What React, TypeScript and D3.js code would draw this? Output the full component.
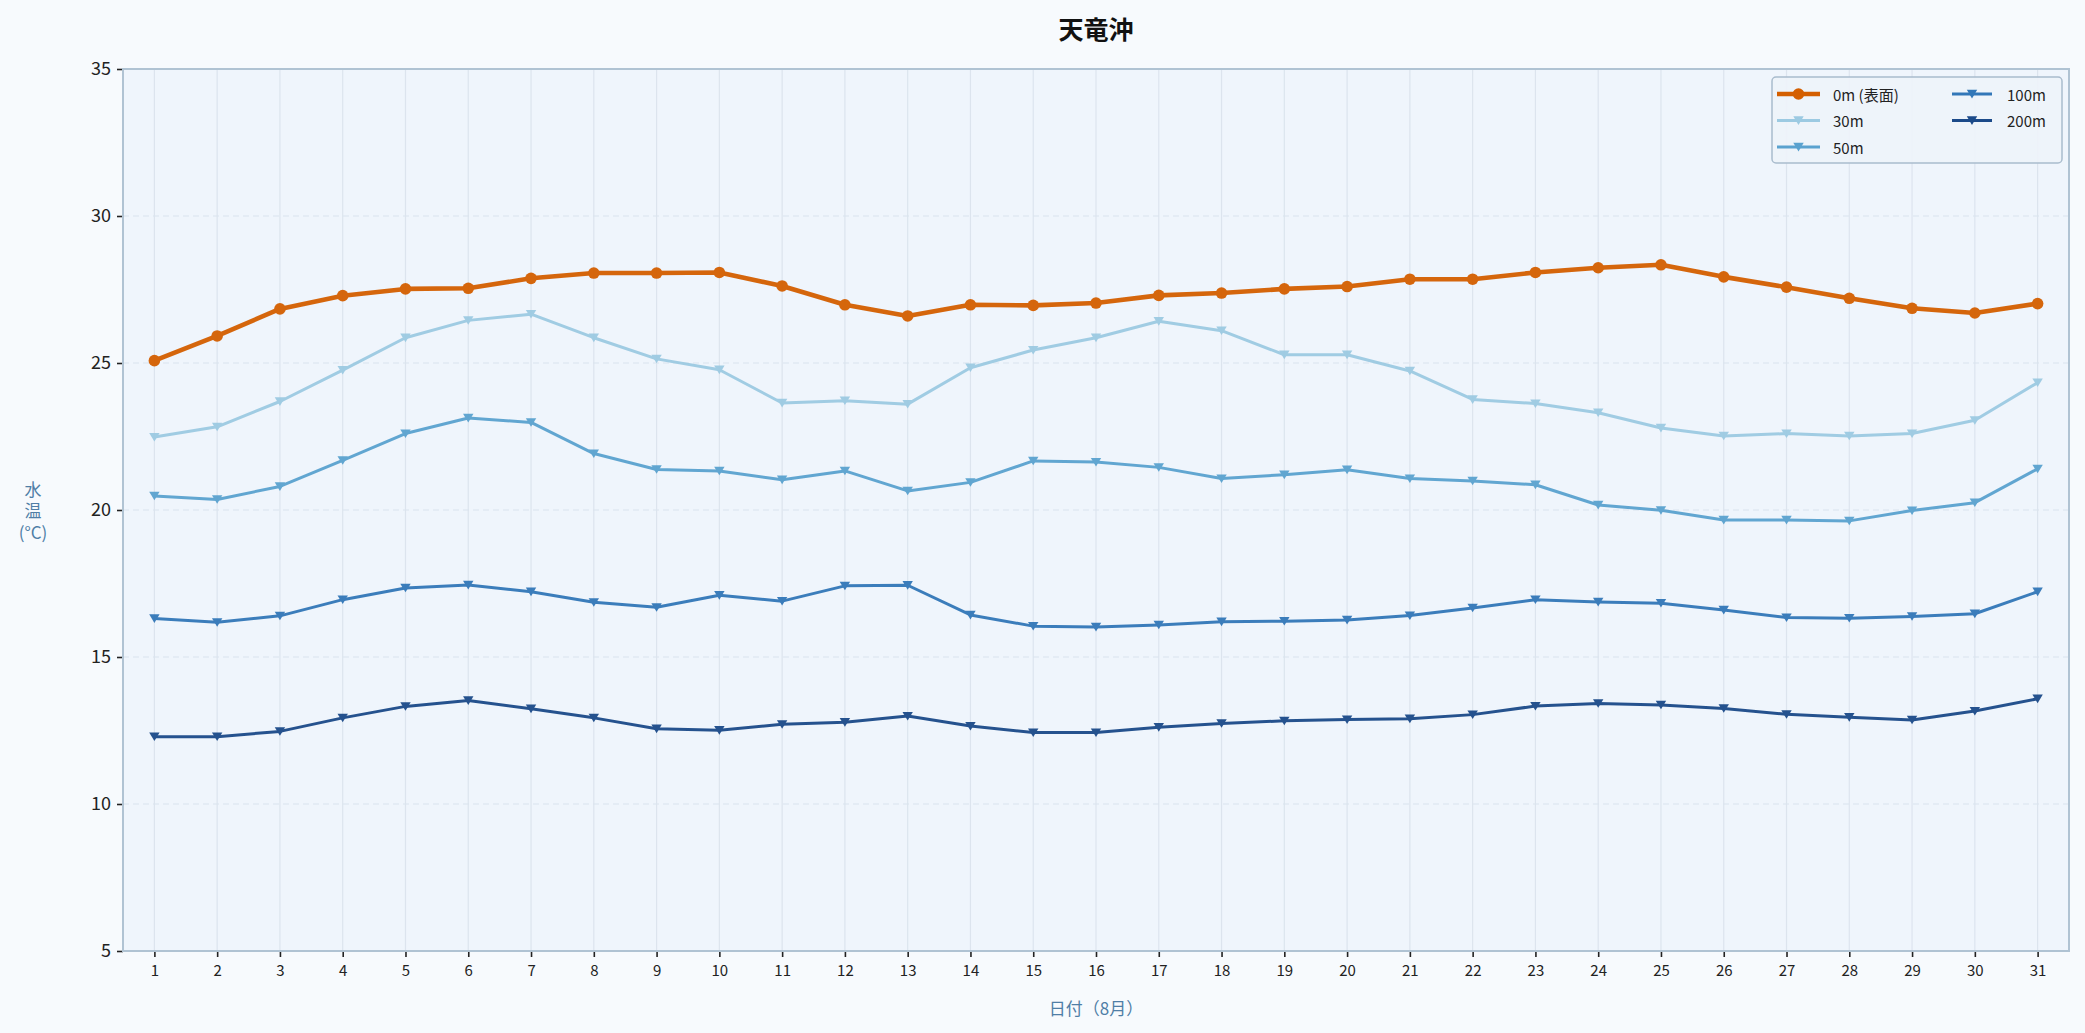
import { useEffect, useRef } from 'react'
import * as d3 from 'd3'

const W = 2085
const H = 1033
const MARGIN = { top: 69, right: 16, bottom: 82, left: 123 }
const FONT = '"Noto Sans CJK JP", "Noto Sans", sans-serif'

const TITLE = '天竜沖'
const X_LABEL = '日付（8月）'
const Y_LABEL = ['水', '温', '(°C)']

const DAYS = d3.range(1, 32)
const Y_TICKS = [5, 10, 15, 20, 25, 30, 35]

const T0 = [25.08, 25.92, 26.84, 27.29, 27.52, 27.54, 27.88, 28.06, 28.06, 28.08, 27.62, 26.98, 26.6, 26.98, 26.96, 27.04, 27.3, 27.38, 27.52, 27.6, 27.85, 27.85, 28.08, 28.24, 28.34, 27.93, 27.58, 27.2, 26.86, 26.7, 27.02]
const T30 = [22.48, 22.83, 23.69, 24.76, 25.86, 26.45, 26.66, 25.86, 25.14, 24.77, 23.64, 23.72, 23.6, 24.84, 25.44, 25.86, 26.42, 26.1, 25.28, 25.28, 24.73, 23.76, 23.62, 23.31, 22.79, 22.52, 22.6, 22.52, 22.6, 23.05, 24.33]
const T50 = [20.48, 20.36, 20.8, 21.69, 22.6, 23.13, 22.98, 21.92, 21.38, 21.33, 21.03, 21.33, 20.65, 20.94, 21.67, 21.63, 21.45, 21.07, 21.2, 21.37, 21.07, 20.99, 20.86, 20.17, 19.99, 19.66, 19.66, 19.63, 19.98, 20.25, 21.4]
const T100 = [16.31, 16.18, 16.4, 16.95, 17.35, 17.45, 17.22, 16.86, 16.69, 17.1, 16.9, 17.42, 17.44, 16.43, 16.05, 16.02, 16.09, 16.2, 16.22, 16.26, 16.41, 16.67, 16.95, 16.87, 16.83, 16.6, 16.34, 16.32, 16.38, 16.47, 17.22]
const T200 = [12.29, 12.29, 12.47, 12.93, 13.32, 13.52, 13.24, 12.93, 12.56, 12.51, 12.71, 12.78, 12.99, 12.65, 12.43, 12.43, 12.61, 12.74, 12.83, 12.87, 12.9, 13.04, 13.33, 13.42, 13.37, 13.25, 13.05, 12.95, 12.86, 13.16, 13.58]

interface Series {
  name: string
  values: number[]
  color: string
  marker: 'circle' | 'tri'
  width: number
}

const SERIES: Series[] = [
  { name: '0m (表面)', values: T0, color: '#d45f00', marker: 'circle', width: 4.6 },
  { name: '30m', values: T30, color: '#9ccae2', marker: 'tri', width: 3 },
  { name: '50m', values: T50, color: '#5aa2cf', marker: 'tri', width: 3 },
  { name: '100m', values: T100, color: '#3277b8', marker: 'tri', width: 3 },
  { name: '200m', values: T200, color: '#1b4a89', marker: 'tri', width: 3 },
]

const triPath = (s: number) => `M${-s},${-s * 0.8}L${s},${-s * 0.8}L0,${s * 0.85}Z`

export default function App() {
  const svgRef = useRef<SVGSVGElement>(null)

  useEffect(() => {
    if (!svgRef.current) return
    document.body.style.margin = '0'
    const svg = d3.select(svgRef.current)
    svg.selectAll('*').remove()

    const x = d3.scaleLinear().domain([0.5, 31.5]).range([MARGIN.left, W - MARGIN.right])
    const y = d3.scaleLinear().domain([5, 35]).range([H - MARGIN.bottom, MARGIN.top])

    svg.append('rect').attr('width', W).attr('height', H).attr('fill', '#f7fafd')
    svg.append('rect')
      .attr('x', MARGIN.left).attr('y', MARGIN.top)
      .attr('width', W - MARGIN.left - MARGIN.right)
      .attr('height', H - MARGIN.top - MARGIN.bottom)
      .attr('fill', '#eff5fc')

    const g = svg.append('g')

    // grid
    g.selectAll('line.vgrid').data(DAYS).join('line')
      .attr('class', 'vgrid')
      .attr('x1', d => x(d)).attr('x2', d => x(d))
      .attr('y1', MARGIN.top).attr('y2', H - MARGIN.bottom)
      .attr('stroke', '#dce4ee').attr('stroke-width', 1.2)
    g.selectAll('line.hgrid').data(Y_TICKS.slice(1, -1)).join('line')
      .attr('class', 'hgrid')
      .attr('x1', MARGIN.left).attr('x2', W - MARGIN.right)
      .attr('y1', d => y(d)).attr('y2', d => y(d))
      .attr('stroke', '#dae3ee').attr('stroke-width', 1.2).attr('stroke-dasharray', '6,4')

    // axes
    const yAx = g.append('g')
      .attr('transform', `translate(${MARGIN.left},0)`)
      .call(d3.axisLeft(y).tickValues(Y_TICKS).tickSize(6).tickPadding(6))
    yAx.select('.domain').remove()
    yAx.selectAll('line').attr('stroke', '#222').attr('stroke-width', 1.6)
    yAx.selectAll('text').style('fill', '#222').style('font-size', '18px').style('font-family', FONT)

    const xAx = g.append('g')
      .attr('transform', `translate(0,${H - MARGIN.bottom})`)
      .call(d3.axisBottom(x).tickValues(DAYS).tickFormat(d3.format('d')).tickSize(6).tickPadding(8))
    xAx.select('.domain').remove()
    xAx.selectAll('line').attr('stroke', '#222').attr('stroke-width', 1.6)
    xAx.selectAll('text').style('fill', '#222').style('font-size', '15px').style('font-family', FONT)

    // frame
    g.append('rect')
      .attr('x', MARGIN.left).attr('y', MARGIN.top)
      .attr('width', W - MARGIN.left - MARGIN.right)
      .attr('height', H - MARGIN.top - MARGIN.bottom)
      .attr('fill', 'none').attr('stroke', '#b0c3d3').attr('stroke-width', 2)

    // series
    const line = d3.line<number>().x((_, i) => x(DAYS[i])).y(d => y(d))
    SERIES.forEach(s => {
      const sg = g.append('g').attr('opacity', 0.95)
      sg.append('path')
        .attr('d', line(s.values))
        .attr('fill', 'none').attr('stroke', s.color)
        .attr('stroke-width', s.width).attr('stroke-linejoin', 'round')
      if (s.marker === 'circle') {
        sg.selectAll('circle').data(s.values).join('circle')
          .attr('cx', (_, i) => x(DAYS[i])).attr('cy', d => y(d))
          .attr('r', 5.8).attr('fill', s.color)
      } else {
        sg.selectAll('path.m').data(s.values).join('path')
          .attr('class', 'm')
          .attr('transform', (d, i) => `translate(${x(DAYS[i])},${y(d)})`)
          .attr('d', triPath(5.2)).attr('fill', s.color)
      }
    })

    // legend
    const lg = svg.append('g').attr('transform', 'translate(1772,77)')
    lg.append('rect')
      .attr('width', 290).attr('height', 86).attr('rx', 4)
      .attr('fill', '#eef3fa').attr('fill-opacity', 0.92)
      .attr('stroke', '#a9bccd').attr('stroke-width', 1.5)
    const cols = [SERIES.slice(0, 3), SERIES.slice(3)]
    const colX = [5, 180]
    cols.forEach((col, ci) => {
      col.forEach((s, ri) => {
        const it = lg.append('g').attr('transform', `translate(${colX[ci]},${17 + ri * 26.5})`)
        const lw = ci === 0 ? 43 : 40
        it.append('line').attr('x1', 0).attr('x2', lw).attr('y1', 0).attr('y2', 0)
          .attr('stroke', s.color).attr('stroke-width', s.width)
        if (s.marker === 'circle') {
          it.append('circle').attr('cx', lw / 2).attr('r', 5.8).attr('fill', s.color)
        } else {
          it.append('path').attr('transform', `translate(${lw / 2},0)`).attr('d', triPath(5.2)).attr('fill', s.color)
        }
        it.append('text').attr('x', ci === 0 ? 56 : 55).attr('dominant-baseline', 'central')
          .style('fill', '#222').style('font-size', '15px').style('font-family', FONT).text(s.name)
      })
    })

    // titles
    svg.append('text').attr('x', (MARGIN.left + W - MARGIN.right) / 2).attr('y', 28)
      .attr('text-anchor', 'middle').attr('dominant-baseline', 'central')
      .style('font-size', '25px').style('font-weight', 'bold').style('font-family', FONT)
      .style('fill', '#111').text(TITLE)
    svg.append('text').attr('x', (MARGIN.left + W - MARGIN.right) / 2).attr('y', 1007)
      .attr('text-anchor', 'middle').attr('dominant-baseline', 'central')
      .style('font-size', '17px').style('font-family', FONT).style('fill', '#4f7ea6').text(X_LABEL)
    Y_LABEL.forEach((t, i) => {
      svg.append('text').attr('x', 33).attr('y', 488 + i * 21.5)
        .attr('text-anchor', 'middle').attr('dominant-baseline', 'central')
        .style('font-size', '17px').style('font-family', FONT).style('fill', '#4f7ea6').text(t)
    })
  }, [])

  return <svg ref={svgRef} width={W} height={H} style={{ display: 'block' }} />
}
